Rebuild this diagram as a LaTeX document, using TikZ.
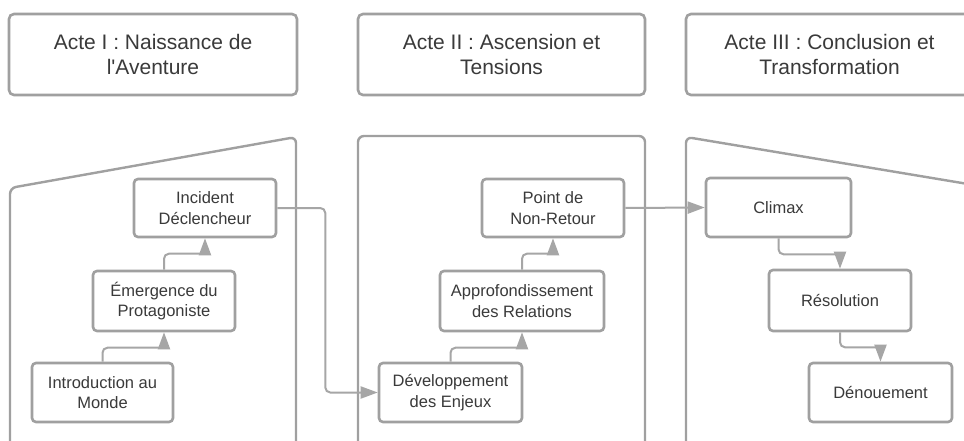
\documentclass[tikz,border=0pt]{standalone}
\usepackage{fontspec}
\setmainfont{Liberation Sans}
\usetikzlibrary{arrows.meta}
\definecolor{bordergray}{HTML}{A0A0A0}
\definecolor{linegray}{HTML}{A6A6A6}
\definecolor{textgray}{HTML}{3A3A3A}
\tikzset{
  titlebox/.style={draw=bordergray, line width=2.6pt, rounded corners=5pt, fill=white,
    text=textgray, align=center, inner sep=0pt, minimum height=81pt,
    font=\fontsize{21}{25}\selectfont},
  stepbox/.style={draw=bordergray, line width=2.6pt, rounded corners=4pt, fill=white,
    text=textgray, align=center, inner sep=0pt, minimum height=59pt,
    font=\fontsize{16.5}{20.7}\selectfont},
  panel/.style={draw=bordergray, line width=2.4pt, rounded corners=6pt},
  conn/.style={draw=linegray, line width=2pt, rounded corners=5pt,
    -{Triangle[length=17pt,width=12pt]}}
}
\begin{document}
\begin{tikzpicture}[x=1pt,y=-1pt]
\clip (0,0) rectangle (964,441);
\fill[white] (0,0) rectangle (964,441);
% panels
\draw[panel] (10,470) -- (10,188) -- (296,137) -- (296,470);
\draw[panel] (358,470) -- (358,136) -- (645,136) -- (645,470);
\draw[panel] (686,470) -- (686,137) -- (1040,196);
% titles
\node[titlebox, minimum width=288pt] (t1) at (153,54.5) {Acte I : Naissance de\\l\textquotesingle Aventure};
\node[titlebox, minimum width=287pt] (t2) at (501.5,54.5) {Acte II : Ascension et\\Tensions};
\node[titlebox, minimum width=287pt] (t3) at (829.5,54.5) {Acte III : Conclusion et\\Transformation};
% steps
\node[stepbox, minimum width=141pt] (intro) at (102.5,392.5) {Introduction au\\Monde};
\node[stepbox, minimum width=142pt, minimum height=60pt] (emerg) at (164,301) {Émergence du\\Protagoniste};
\node[stepbox, minimum width=142pt, minimum height=58pt] (incid) at (205,208) {Incident\\Déclencheur};
\node[stepbox, minimum width=143pt] (dev) at (450.5,392.5) {Développement\\des Enjeux};
\node[stepbox, minimum width=164pt, minimum height=60pt] (appro) at (522,301) {Approfondissement\\des Relations};
\node[stepbox, minimum width=142pt, minimum height=58pt] (point) at (553,208) {Point de\\Non-Retour};
\node[stepbox, minimum width=145pt] (climax) at (778.5,207.5) {Climax};
\node[stepbox, minimum width=142pt, minimum height=61pt] (reso) at (840,300.5) {Résolution};
\node[stepbox, minimum width=143pt] (denou) at (880.5,392.5) {Dénouement};
% connectors
\draw[conn] (intro.north) -- ++(0,-14) -| (emerg.south);
\draw[conn] (emerg.north) -- ++(0,-16) -| (incid.south);
\draw[conn] (incid.east) -- ++(48,0) |- (dev.west);
\draw[conn] (dev.north) -- ++(0,-14) -| (appro.south);
\draw[conn] (appro.north) -- ++(0,-16) -| (point.south);
\draw[conn] (point.east) -- (climax.west);
\draw[conn] (climax.south) -- ++(0,16) -| (reso.north);
\draw[conn] (reso.south) -- ++(0,15) -| (denou.north);
\end{tikzpicture}
\end{document}
